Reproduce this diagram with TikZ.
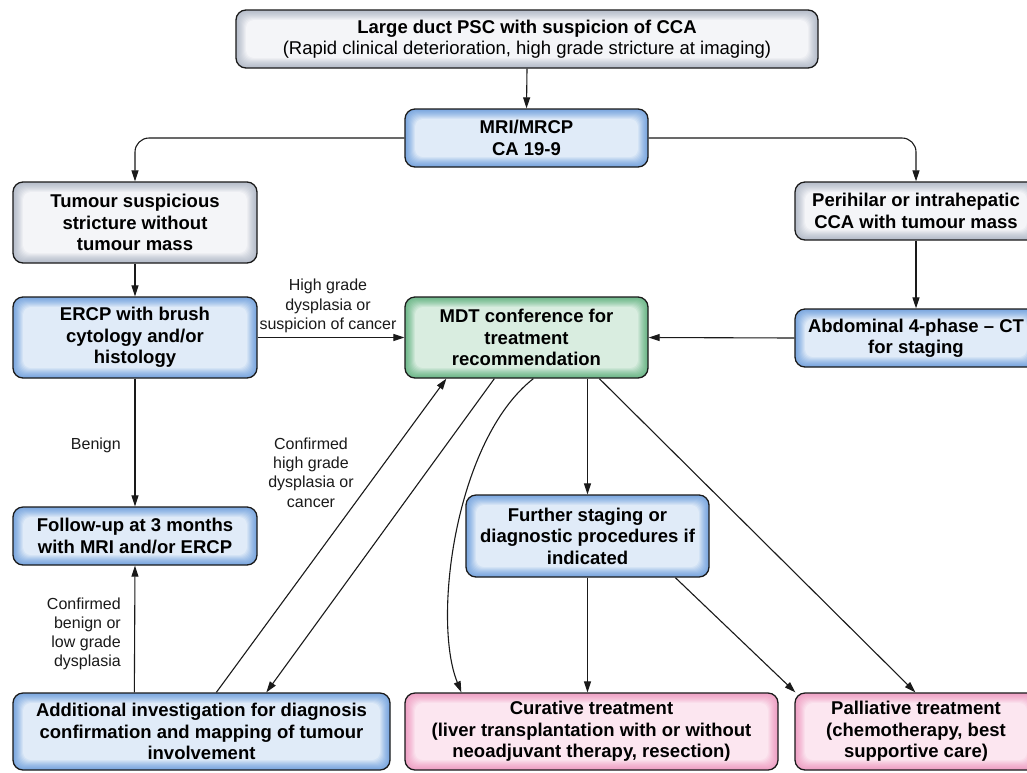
\documentclass[tikz,border=0pt]{standalone}
\usepackage{fontspec}
\setmainfont{Liberation Sans}
\usetikzlibrary{arrows.meta,calc}
\definecolor{gEdge}{HTML}{B8BFCC}
\definecolor{gCen}{HTML}{F4F5F8}
\definecolor{bEdge}{HTML}{7EA9E0}
\definecolor{bCen}{HTML}{E0EBF8}
\definecolor{vEdge}{HTML}{72BA8D}
\definecolor{vCen}{HTML}{D9EDE0}
\definecolor{pEdge}{HTML}{EFA3C6}
\definecolor{pCen}{HTML}{FCE6F0}
\definecolor{lineC}{HTML}{1A1A1A}
\tikzset{
  glow/.style 2 args={fill=#1, path picture={
      \foreach \k in {1,...,10}{
        \pgfmathtruncatemacro\pc{min(100,(\k/10)^1.4*100)}
        \fill[#2!\pc!#1, rounded corners=8pt]
          ($(path picture bounding box.south west)+(\k*1pt,\k*1pt)$) rectangle
          ($(path picture bounding box.north east)-(\k*1pt,\k*1pt)$);
      }}},
  box/.style={draw=lineC, line width=1.3pt, rounded corners=10pt, align=center,
    inner sep=0pt, font=\bfseries\fontsize{18.5}{21.5}\selectfont},
  graybox/.style={box, glow={gEdge}{gCen}},
  bluebox/.style={box, glow={bEdge}{bCen}},
  greenbox/.style={box, glow={vEdge}{vCen}},
  pinkbox/.style={box, glow={pEdge}{pCen}},
  lbl/.style={align=center, inner sep=0pt, font=\fontsize{16}{19.2}\selectfont, text=lineC},
  arr/.style={draw=lineC, line width=1.1pt, -{Triangle[length=11pt,width=7pt]}},
}
\begin{document}
\begin{tikzpicture}[x=1pt,y=-1pt]
\useasboundingbox (0,0) rectangle (1027,772);
\fill[white] (0,0) rectangle (1027,772);

% boxes
\node[graybox, minimum width=582pt, minimum height=58pt] (top) at (527,39)
  {Large duct PSC with suspicion of CCA\\\mdseries (Rapid clinical deterioration, high grade stricture at imaging)};
\node[bluebox, minimum width=243pt, minimum height=58pt] (mri) at (526.5,138) {MRI/MRCP\\CA 19-9};
\node[graybox, minimum width=244pt, minimum height=81pt] (tum) at (135,222.5) {Tumour suspicious\\stricture without\\tumour mass};
\node[graybox, minimum width=242pt, minimum height=58pt] (per) at (916,211) {Perihilar or intrahepatic\\CCA with tumour mass};
\node[bluebox, minimum width=244pt, minimum height=81pt] (ercp) at (135,337.5) {ERCP with brush\\cytology and/or\\histology};
\node[greenbox, minimum width=243pt, minimum height=81pt] (mdt) at (526.5,337.5) {MDT conference for\\treatment\\recommendation};
\node[bluebox, minimum width=242pt, minimum height=58pt] (abd) at (916,338) {Abdominal 4-phase -- CT\\for staging};
\node[bluebox, minimum width=244pt, minimum height=58pt] (fol) at (135,536) {Follow-up at 3 months\\with MRI and/or ERCP};
\node[bluebox, minimum width=243pt, minimum height=82pt] (fur) at (587.5,536) {Further staging or\\diagnostic procedures if\\indicated};
\node[bluebox, minimum width=377pt, minimum height=77pt] (add) at (201.5,731.5) {Additional investigation for diagnosis\\confirmation and mapping of tumour\\involvement};
\node[pinkbox, minimum width=373pt, minimum height=77pt] (cur) at (591.5,731.5) {Curative treatment\\(liver transplantation with or without\\neoadjuvant therapy, resection)};
\node[pinkbox, minimum width=242pt, minimum height=77pt] (pal) at (916,731.5) {Palliative treatment\\(chemotherapy, best\\supportive care)};

% labels
\node[lbl] (l1) at (328,306) {High grade\\dysplasia or\\suspicion of cancer};
\node[lbl, anchor=east] (l2) at (121,445) {Benign};
\node[lbl] (l3) at (311,472.5) {Confirmed\\high grade\\dysplasia or\\cancer};
\node[lbl, anchor=east, align=right] (l4) at (121,634) {Confirmed\\benign or\\low grade\\dysplasia};

% connectors
\draw[arr] (top.south) -- (mri.north);
\draw[arr, rounded corners=14pt] (mri.west) -| (tum.north);
\draw[arr, rounded corners=14pt] (mri.east) -| (per.north);
\draw[arr] (tum.south) -- (ercp.north);
\draw[arr] (per.south) -- (abd.north);
\draw[arr] (ercp.east) -- (mdt.west);
\draw[arr] (abd.west) -- (mdt.east);
\draw[arr] (ercp.south) -- (fol.north);
\draw[arr] ($(add.north west)+(122,0)$) -- (fol.south);
\draw[arr] ($(add.north west)+(204,0)$) -- ($(mdt.south west)+(42,0)$);
\draw[arr] ($(mdt.south west)+(90,0)$) -- ($(add.north west)+(254,0)$);
\draw[arr] ($(mdt.south west)+(129,0)$) .. controls (455,440) and (432,620) .. ($(cur.north west)+(57,0)$);
\draw[arr] (fur.north |- mdt.south) -- (fur.north);
\draw[arr] ($(mdt.south west)+(195,0)$) -- ($(pal.north west)+(121,0)$);
\draw[arr] (fur.south) -- (fur.south |- cur.north);
\draw[arr] ($(fur.south west)+(210,0)$) -- ($(pal.north west)+(1,0)$);
\end{tikzpicture}
\end{document}
